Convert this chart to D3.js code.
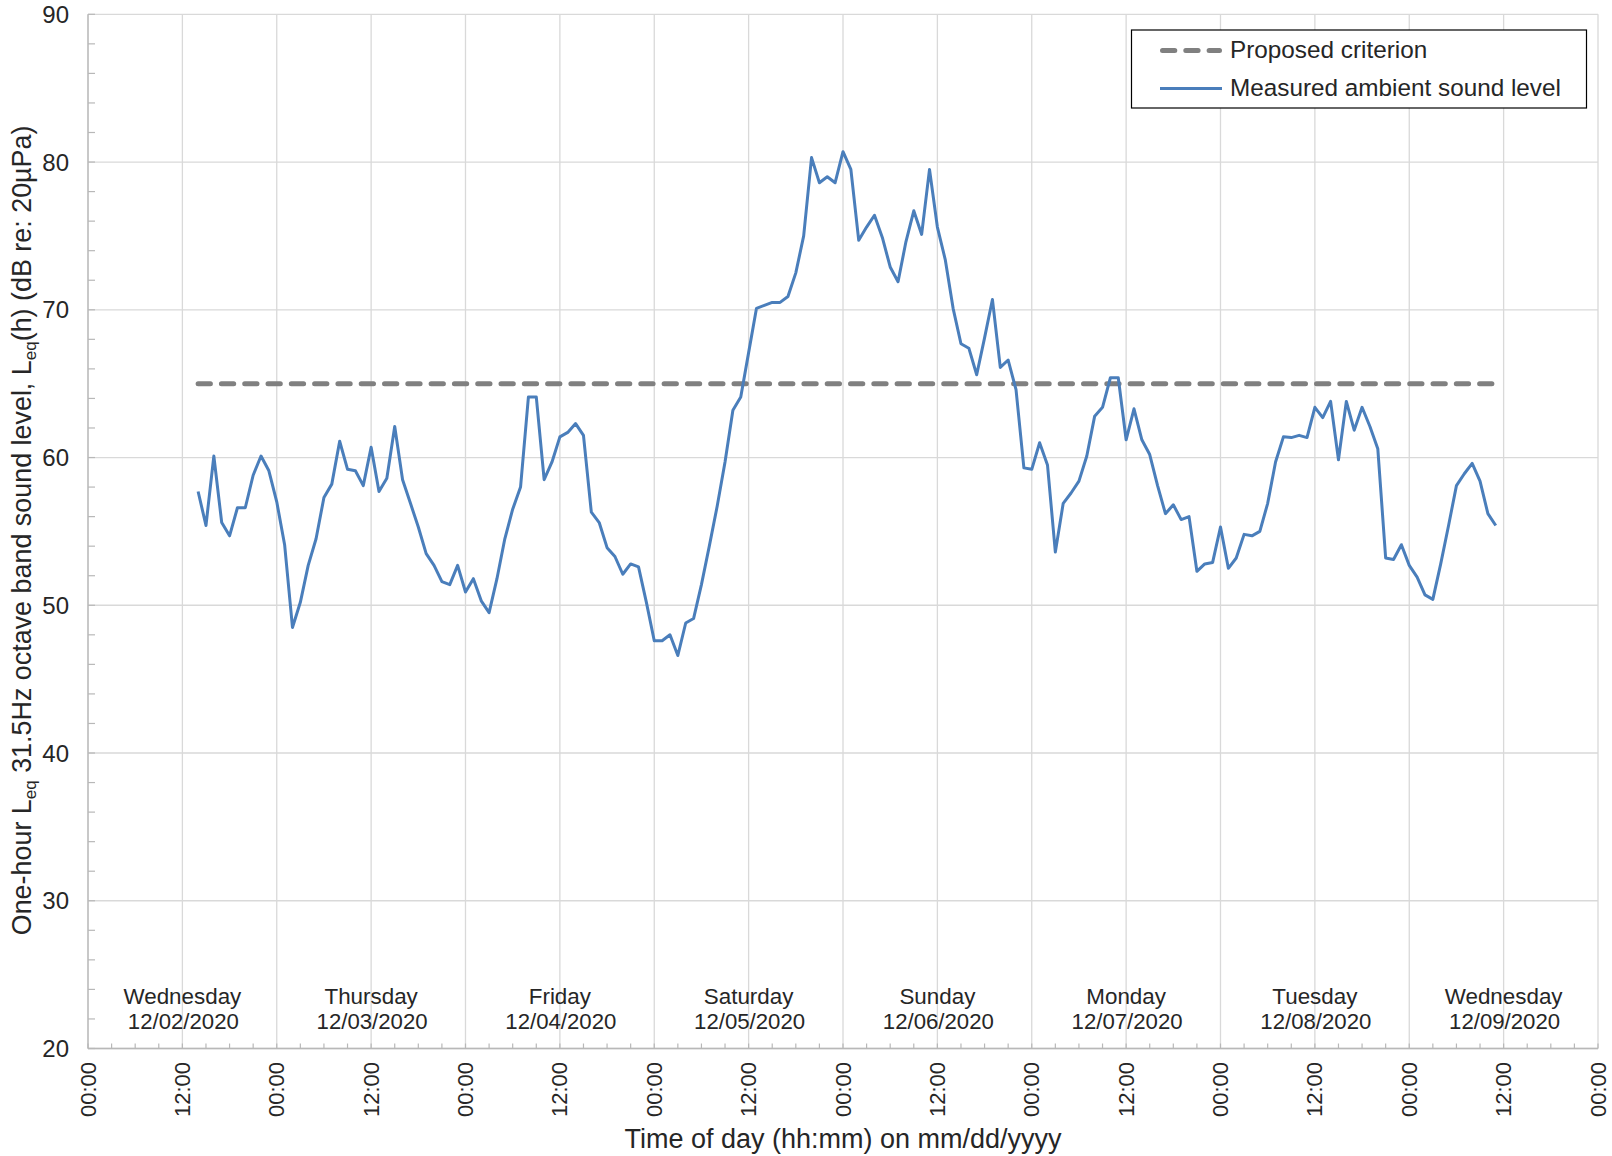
<!DOCTYPE html>
<html>
<head>
<meta charset="utf-8">
<script src="https://cdn.jsdelivr.net/npm/d3@7"></script>
<style>
  html, body { margin: 0; padding: 0; background: #fff; }
  svg { display: block; }
  text { font-family: "Liberation Sans", Arial, sans-serif; fill: #262626; }
</style>
</head>
<body>
<svg id="chart" width="1612" height="1156"></svg>
<script>
// ---------- data ----------
const firstHour = new Date(2020, 11, 2, 14, 0); // first hourly reading, Wed 12/02/2020 14:00
const measuredLevels = [
  57.7, 55.4, 60.1, 55.6, 54.7, 56.6, 56.6, 58.8, 60.1, 59.1,
  57.0, 54.1, 48.5, 50.2, 52.7, 54.5, 57.3, 58.2, 61.1, 59.2,
  59.1, 58.1, 60.7, 57.7, 58.6, 62.1, 58.5, 56.9, 55.3, 53.5,
  52.7, 51.6, 51.4, 52.7, 50.9, 51.8, 50.3, 49.5, 51.8, 54.5,
  56.5, 58.0, 64.1, 64.1, 58.5, 59.7, 61.4, 61.7, 62.3, 61.5,
  56.3, 55.6, 53.9, 53.3, 52.1, 52.8, 52.6, 50.2, 47.6, 47.6,
  48.0, 46.6, 48.8, 49.1, 51.4, 54.0, 56.7, 59.7, 63.2, 64.1,
  67.1, 70.1, 70.3, 70.5, 70.5, 70.9, 72.5, 75.0, 80.3, 78.6,
  79.0, 78.6, 80.7, 79.5, 74.7, 75.6, 76.4, 74.9, 72.9, 71.9,
  74.6, 76.7, 75.1, 79.5, 75.6, 73.4, 70.1, 67.7, 67.4, 65.6,
  68.1, 70.7, 66.1, 66.6, 64.6, 59.3, 59.2, 61.0, 59.5, 53.6,
  56.9, 57.6, 58.4, 60.1, 62.8, 63.4, 65.4, 65.4, 61.2, 63.3,
  61.2, 60.2, 58.1, 56.2, 56.8, 55.8, 56.0, 52.3, 52.8, 52.9,
  55.3, 52.5, 53.2, 54.8, 54.7, 55.0, 56.9, 59.7, 61.4, 61.35,
  61.5, 61.35, 63.4, 62.7, 63.8, 59.85, 63.8, 61.85, 63.4, 62.1,
  60.6, 53.2, 53.1, 54.1, 52.7, 51.9, 50.7, 50.4, 52.8, 55.4,
  58.1, 58.9, 59.6, 58.4, 56.2, 55.4
];
const criterionLevel = 65;
const dayNames = ["Wednesday", "Thursday", "Friday", "Saturday", "Sunday", "Monday", "Tuesday", "Wednesday"];
const dayDates = ["12/02/2020", "12/03/2020", "12/04/2020", "12/05/2020", "12/06/2020", "12/07/2020", "12/08/2020", "12/09/2020"];
const yTickValues = [20, 30, 40, 50, 60, 70, 80, 90];
const xStart = new Date(2020, 11, 2, 0, 0);
const xEnd = new Date(2020, 11, 10, 0, 0);
const legendLabels = ["Proposed criterion", "Measured ambient sound level"];
const xTitle = "Time of day (hh:mm) on mm/dd/yyyy";

// ---------- layout ----------
const L = 88, R = 1598, T = 14.3, B = 1048.5;
const gridColor = "#d9d9d9", axisColor = "#b8b8b8";
const blue = "#4a7ebb", grey = "#808080";

const svg = d3.select("#chart");
const x = d3.scaleTime().domain([xStart, xEnd]).range([L, R]);
const y = d3.scaleLinear().domain([20, 90]).range([B, T]);

const times = measuredLevels.map((v, i) => d3.timeHour.offset(firstHour, i));
const measured = measuredLevels.map((v, i) => ({ t: times[i], v }));
const criterion = times.map(t => ({ t, v: criterionLevel }));

// grid
const grid = svg.append("g");
grid.selectAll("line.h").data(yTickValues).join("line")
  .attr("x1", L).attr("x2", R).attr("y1", d => y(d)).attr("y2", d => y(d))
  .attr("stroke", gridColor).attr("stroke-width", 1.3);
const majorX = d3.timeHour.every(12).range(xStart, d3.timeHour.offset(xEnd, 1));
grid.selectAll("line.v").data(majorX).join("line")
  .attr("x1", d => x(d)).attr("x2", d => x(d)).attr("y1", T).attr("y2", B)
  .attr("stroke", gridColor).attr("stroke-width", 1.3);

// minor ticks
const minorY = d3.range(20, 90.001, 2);
grid.selectAll("line.my").data(minorY).join("line")
  .attr("x1", L).attr("x2", L + 7).attr("y1", d => y(d)).attr("y2", d => y(d))
  .attr("stroke", axisColor).attr("stroke-width", 1.2);
const minorX = d3.timeHour.every(3).range(xStart, d3.timeHour.offset(xEnd, 1));
grid.selectAll("line.mx").data(minorX).join("line")
  .attr("x1", d => x(d)).attr("x2", d => x(d)).attr("y1", B).attr("y2", B - 5)
  .attr("stroke", axisColor).attr("stroke-width", 1.2);

// axis lines
svg.append("line").attr("x1", L).attr("x2", L).attr("y1", T).attr("y2", B)
  .attr("stroke", axisColor).attr("stroke-width", 1.3);
svg.append("line").attr("x1", L).attr("x2", R).attr("y1", B).attr("y2", B)
  .attr("stroke", axisColor).attr("stroke-width", 1.3);

// y tick labels
svg.append("g").selectAll("text").data(yTickValues).join("text")
  .attr("x", 69).attr("y", d => y(d)).attr("dy", "0.36em")
  .attr("text-anchor", "end").attr("font-size", 24)
  .text(d => d);

// x tick labels (rotated)
const fmt = d3.timeFormat("%H:%M");
svg.append("g").selectAll("text").data(majorX).join("text")
  .attr("transform", d => `translate(${x(d) + 7.5},1062) rotate(-90)`)
  .attr("text-anchor", "end").attr("font-size", 22)
  .text(d => fmt(d));

// day labels centred on noon
const noons = dayNames.map((n, i) => d3.timeHour.offset(xStart, 24 * i + 12));
const dl = svg.append("g");
dl.selectAll("text.n").data(dayNames).join("text")
  .attr("x", (d, i) => x(noons[i])).attr("y", 1003.5)
  .attr("text-anchor", "middle").attr("font-size", 22.4).text(d => d);
dl.selectAll("text.d").data(dayDates).join("text")
  .attr("x", (d, i) => x(noons[i]) + 1).attr("y", 1028.5)
  .attr("text-anchor", "middle").attr("font-size", 22.2).text(d => d);

// lines
const line = d3.line().x(d => x(d.t)).y(d => y(d.v));
svg.append("path").datum(criterion).attr("d", line)
  .attr("fill", "none").attr("stroke", grey).attr("stroke-width", 5)
  .attr("stroke-linecap", "round").attr("stroke-dasharray", "12.3 11");
svg.append("path").datum(measured).attr("d", line)
  .attr("fill", "none").attr("stroke", blue).attr("stroke-width", 3)
  .attr("stroke-linejoin", "round");

// axis titles
svg.append("text").attr("x", (L + R) / 2).attr("y", 1148)
  .attr("text-anchor", "middle").attr("font-size", 27).text(xTitle);

const yt = svg.append("text")
  .attr("transform", `translate(31,${(T + B) / 2 - 1}) rotate(-90)`)
  .attr("text-anchor", "middle").attr("font-size", 26.9);
yt.append("tspan").text("One-hour L");
yt.append("tspan").attr("font-size", 17).attr("dy", 5).text("eq");
yt.append("tspan").attr("dy", -5).text(" 31.5Hz octave band sound level, L");
yt.append("tspan").attr("font-size", 17).attr("dy", 5).text("eq");
yt.append("tspan").attr("dy", -5).text("(h) (dB re: 20\u00B5Pa)");

// legend
const lg = svg.append("g");
lg.append("rect").attr("x", 1131.5).attr("y", 30).attr("width", 455).attr("height", 78)
  .attr("fill", "#fff").attr("stroke", "#000").attr("stroke-width", 1.2);
lg.append("line").attr("x1", 1162.5).attr("x2", 1219.5).attr("y1", 50.5).attr("y2", 50.5)
  .attr("stroke", grey).attr("stroke-width", 5).attr("stroke-linecap", "round")
  .attr("stroke-dasharray", "12.3 11");
lg.append("line").attr("x1", 1160).attr("x2", 1222).attr("y1", 88.5).attr("y2", 88.5)
  .attr("stroke", blue).attr("stroke-width", 3);
lg.selectAll("text").data(legendLabels).join("text")
  .attr("x", 1230).attr("y", (d, i) => i === 0 ? 58 : 96)
  .attr("font-size", 24.3).text(d => d);
</script>
</body>
</html>
